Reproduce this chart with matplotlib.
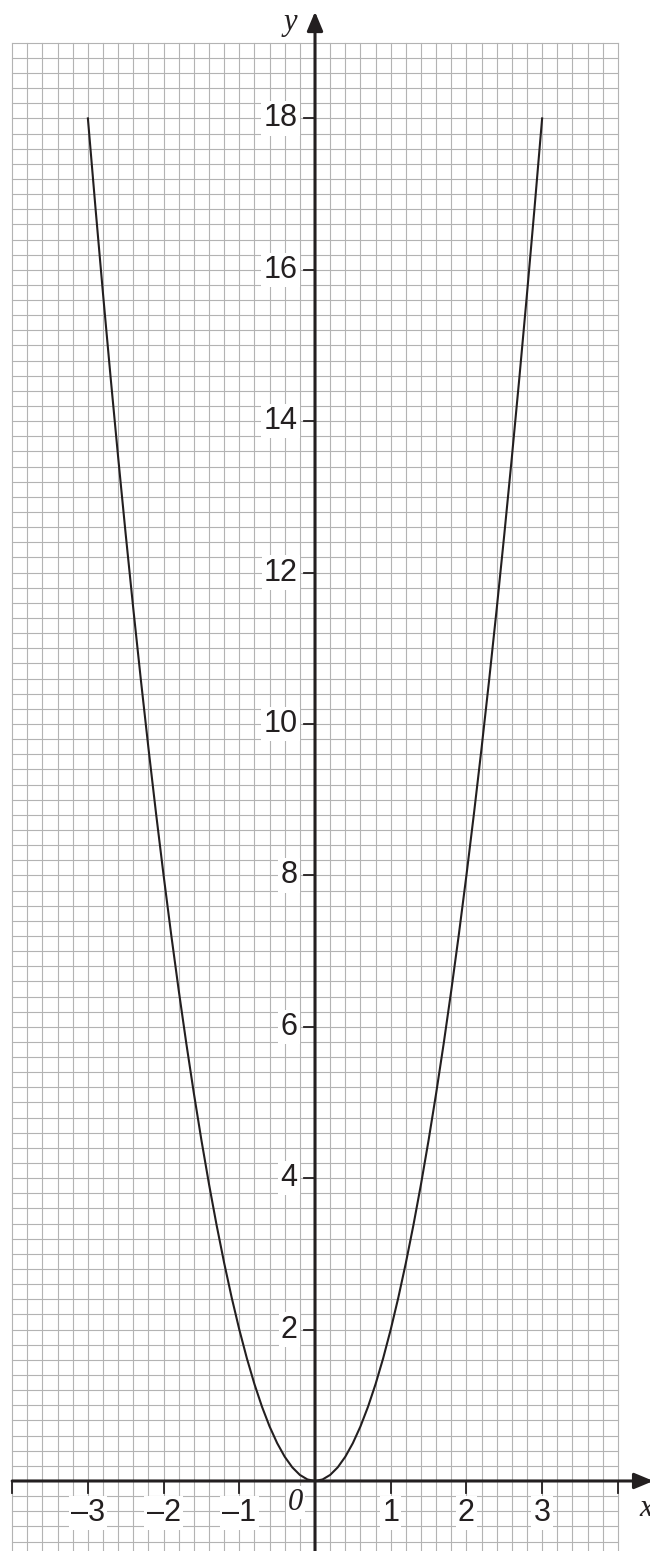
import matplotlib
matplotlib.use("Agg")
import matplotlib.pyplot as plt
import numpy as np

# curve points (y = 2x^2 shape)
curve_x = [-3.0, -2.9, -2.8, -2.7, -2.6, -2.5, -2.4, -2.3, -2.2, -2.1,
           -2.0, -1.9, -1.8, -1.7, -1.6, -1.5, -1.4, -1.3, -1.2, -1.1,
           -1.0, -0.9, -0.8, -0.7, -0.6, -0.5, -0.4, -0.3, -0.2, -0.1,
           0.0, 0.1, 0.2, 0.3, 0.4, 0.5, 0.6, 0.7, 0.8, 0.9,
           1.0, 1.1, 1.2, 1.3, 1.4, 1.5, 1.6, 1.7, 1.8, 1.9,
           2.0, 2.1, 2.2, 2.3, 2.4, 2.5, 2.6, 2.7, 2.8, 2.9, 3.0]
curve_y = [18.0, 16.82, 15.68, 14.58, 13.52, 12.5, 11.52, 10.58, 9.68, 8.82,
           8.0, 7.22, 6.48, 5.78, 5.12, 4.5, 3.92, 3.38, 2.88, 2.42,
           2.0, 1.62, 1.28, 0.98, 0.72, 0.5, 0.32, 0.18, 0.08, 0.02,
           0.0, 0.02, 0.08, 0.18, 0.32, 0.5, 0.72, 0.98, 1.28, 1.62,
           2.0, 2.42, 2.88, 3.38, 3.92, 4.5, 5.12, 5.78, 6.48, 7.22,
           8.0, 8.82, 9.68, 10.58, 11.52, 12.5, 13.52, 14.58, 15.68, 16.82, 18.0]

x_ticks = [-4, -3, -2, -1, 1, 2, 3, 4]
x_labels = ["–3", "–2", "–1", "1", "2", "3"]
x_label_pos = [-3, -2, -1, 1, 2, 3]
y_ticks = [2, 4, 6, 8, 10, 12, 14, 16, 18]

ink = "#231f20"
grid_col = "#b3b3b3"

fig = plt.figure(figsize=(6.5, 15.51), dpi=100)
ax = fig.add_axes([0, 0, 1, 1])
ax.set_xlim(-4.161, 4.425)
ax.set_ylim(-0.925, 19.564)
ax.axis("off")

# graph paper
for gx in np.arange(-4, 4.001, 0.2):
    ax.plot([gx, gx], [-1.2, 19], color=grid_col, lw=0.8, zorder=1)
for gy in np.arange(-1.2, 19.001, 0.2):
    ax.plot([-4, 4], [gy, gy], color=grid_col, lw=0.8, zorder=1)

# axes with arrows
arrow = dict(arrowstyle="-|>,head_length=1.15,head_width=0.48",
             lw=2.2, color=ink, mutation_scale=10, shrinkA=0, shrinkB=0)
ax.annotate("", xy=(4.47, 0), xytext=(-4, 0), arrowprops=arrow,
            annotation_clip=False, zorder=4)
ax.annotate("", xy=(0, 19.41), xytext=(0, -1.2), arrowprops=arrow,
            annotation_clip=False, zorder=4)

# ticks
for t in x_ticks:
    ax.plot([t, t], [0, -0.16], color=ink, lw=1.3, zorder=4)
for t in y_ticks:
    ax.plot([-0.145, 0], [t, t], color=ink, lw=1.3, zorder=4)

box = dict(facecolor="white", edgecolor="none", pad=1.5)
for t, lab in zip(x_label_pos, x_labels):
    ax.text(t, -0.42, lab, ha="center", va="center", fontsize=22,
            family="Liberation Sans", color=ink, bbox=box, zorder=5)
for t in y_ticks:
    ax.text(-0.23, t, str(t), ha="right", va="center", fontsize=22,
            family="Liberation Sans", color=ink, bbox=box, zorder=5)

ax.text(-0.26, -0.28, "0", ha="center", va="center", fontsize=22,
        family="Liberation Serif", style="italic", color=ink, bbox=box, zorder=5)
ax.text(4.37, -0.36, "x", ha="center", va="center", fontsize=22,
        family="Liberation Serif", style="italic", color=ink, zorder=5)
ax.text(-0.32, 19.27, "y", ha="center", va="center", fontsize=22,
        family="Liberation Serif", style="italic", color=ink, zorder=5)

# the curve
ax.plot(curve_x, curve_y, color=ink, lw=1.5, zorder=3)

fig.savefig("out.png", dpi=100)
